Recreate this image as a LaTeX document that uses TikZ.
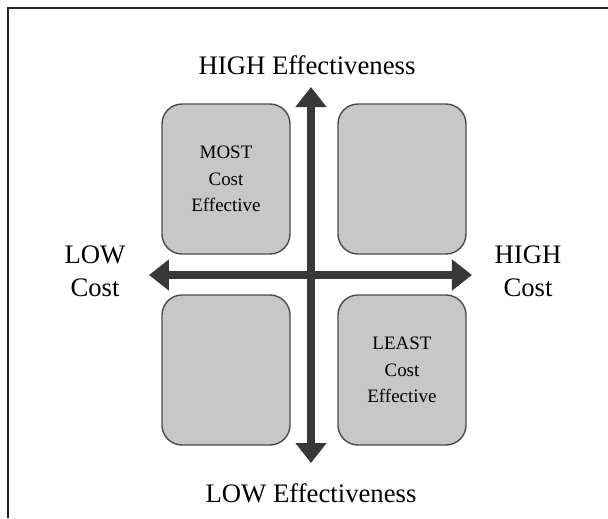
\documentclass[tikz,border=0pt]{standalone}
\usepackage{fontspec}
\setmainfont{Liberation Serif}
\usepackage{xcolor}
\usetikzlibrary{arrows.meta, positioning}

\tikzset{
    quad/.style={draw=black!70, line width=1pt, fill=black!22,
        rounded corners=0.5cm, minimum width=3.2cm, minimum height=3.75cm,
        align=center, font=\fontsize{13.5}{19}\selectfont},
    axisarrow/.style={line width=5pt, draw=black!78,
        {Triangle[width=7.5mm,length=5mm]}-{Triangle[width=7.5mm,length=5mm]}},
    bigtext/.style={font=\fontsize{19}{23.5}\selectfont, align=center}
}

\begin{document}
\begin{tikzpicture}
            \useasboundingbox (-7.775,-6.075) rectangle (7.425,6.875);
            % 1. Khung
            \draw[line width=2pt, black!85] (-7.575,-6.075) -- (-7.575,6.675) -- (7.425,6.675);

            % 2. Bốn ô
            \node[quad] (most) at (-2.125,2.4) {MOST\\Cost\\Effective};
            \node[quad] (hihi) at (2.275,2.4) {};
            \node[quad] (lolo) at (-2.125,-2.375) {};
            \node[quad] (least) at (2.275,-2.375) {LEAST\\Cost\\Effective};

            % 3. Hai trục
            \coordinate (top) at (0,4.7);
            \coordinate (bot) at (0,-4.7);
            \coordinate (left) at (-4.05,0);
            \coordinate (right) at (4.025,0);
            \draw[axisarrow] (left) -- (right);
            \draw[axisarrow] (bot) -- (top);

            % 4. Nhãn
            \node[bigtext, anchor=base] (higheff) at (-0.1,5.025) {HIGH Effectiveness};
            \node[bigtext, anchor=base] (loweff) at (0,-5.675) {LOW Effectiveness};
            \node[bigtext] (lowcost) at (-5.4,0.1) {LOW\\Cost};
            \node[bigtext] (highcost) at (5.425,0.1) {HIGH\\Cost};
        \end{tikzpicture}
\end{document}
